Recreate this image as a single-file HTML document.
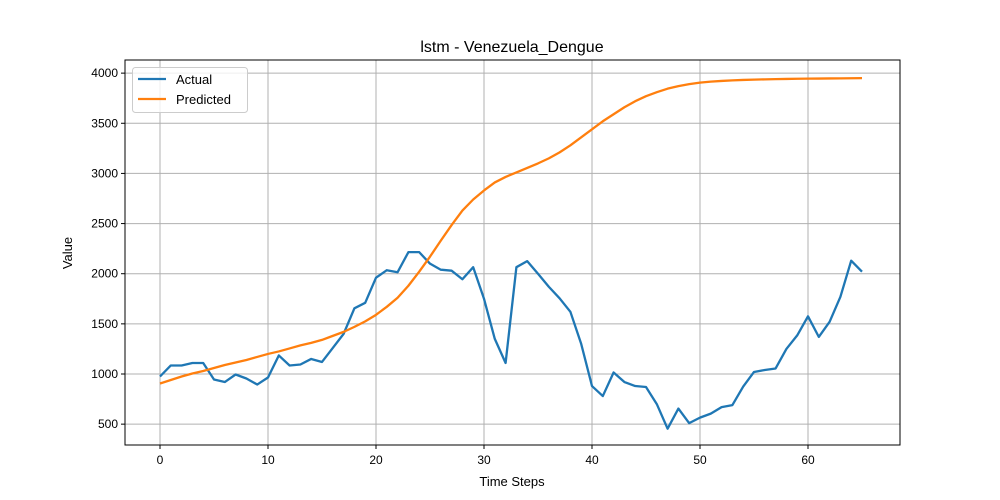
<!DOCTYPE html>
<html><head><meta charset="utf-8"><style>
body{margin:0;background:#fff;}
svg{display:block;font-family:"Liberation Sans","DejaVu Sans",sans-serif;}
</style></head><body>
<svg id="chart" width="1000" height="500">
<text x="512" y="52" text-anchor="middle" font-size="16" fill="#000">lstm - Venezuela_Dengue</text>
<text x="512" y="486" text-anchor="middle" font-size="13">Time Steps</text>
<text x="72" y="253" text-anchor="middle" font-size="13" transform="rotate(-90 72 253)">Value</text>
<g id="grid"></g><g id="series"></g><g id="axes"></g>
<g>
<rect x="132.5" y="67.5" width="115" height="45" rx="3" fill="#fff" fill-opacity="0.8" stroke="#ccc"/>
<line x1="138" y1="79" x2="166" y2="79" stroke="#1f77b4" stroke-width="2.3"/>
<text x="176" y="84" font-size="13">Actual</text>
<line x1="138" y1="99" x2="166" y2="99" stroke="#ff7f0e" stroke-width="2.3"/>
<text x="176" y="104" font-size="13">Predicted</text>
</g>
</svg>
<script>
const actual=[975,1085,1085,1110,1110,945,920,995,955,895,965,1185,1085,1095,1150,1120,1260,1400,1655,1710,1960,2035,2015,2215,2215,2100,2040,2030,1945,2065,1750,1350,1110,2065,2125,2000,1870,1755,1620,1300,880,780,1015,920,880,870,700,455,655,510,565,605,670,690,875,1020,1040,1055,1250,1385,1575,1370,1520,1770,2130,2020];
const predicted=[905,940,975,1005,1030,1060,1090,1115,1140,1170,1200,1225,1255,1285,1310,1340,1380,1420,1470,1525,1590,1670,1760,1880,2020,2170,2330,2485,2630,2740,2830,2910,2965,3010,3055,3100,3150,3210,3280,3360,3440,3520,3590,3660,3720,3770,3810,3845,3870,3890,3905,3915,3922,3928,3932,3935,3938,3940,3942,3944,3945,3946,3947,3948,3949,3950];
const xTicks=[0,10,20,30,40,50,60];
const yTicks=[500,1000,1500,2000,2500,3000,3500,4000];
const L=125,R=900,T=60,B=445;
const xs=v=>160+v*10.8;
const ys=v=>374-(v-1000)*0.10029;
const NS="http://www.w3.org/2000/svg";
function mk(tag,attrs,parent){const e=document.createElementNS(NS,tag);for(const k in attrs)e.setAttribute(k,attrs[k]);parent.appendChild(e);return e;}
const grid=document.getElementById('grid'),axes=document.getElementById('axes'),series=document.getElementById('series');
xTicks.forEach(t=>{const x=xs(t);
 const g=mk('line',{x1:x,x2:x,y1:T,y2:B,stroke:'#b0b0b0','stroke-width':1},grid);
 
 
 mk('line',{x1:x,x2:x,y1:B,y2:B+4,stroke:'#000'},axes);
 const tx=mk('text',{x:x,y:B+19,'text-anchor':'middle','font-size':12},axes);tx.textContent=t;
 
 
});
yTicks.forEach(t=>{const y=ys(t);
 const g=mk('line',{x1:L,x2:R,y1:y,y2:y,stroke:'#b0b0b0','stroke-width':1},grid);
 
 
 mk('line',{x1:L-4,x2:L,y1:y,y2:y,stroke:'#000'},axes);
 const tx=mk('text',{x:L-7,y:y+4,'text-anchor':'end','font-size':12},axes);tx.textContent=t;
 
 
});
const fr=mk('rect',{x:L,y:T,width:R-L,height:B-T,fill:'none',stroke:'#000','stroke-width':1},axes);


function line(data,color,name){
 const p=mk('polyline',{points:data.map((v,i)=>xs(i)+','+ys(v)).join(' '),fill:'none',stroke:color,'stroke-width':2.3,'stroke-linejoin':'round'},series);
 
 
}
line(actual,'#1f77b4','actual-line');
line(predicted,'#ff7f0e','predicted-line');
</script>
</body></html>
